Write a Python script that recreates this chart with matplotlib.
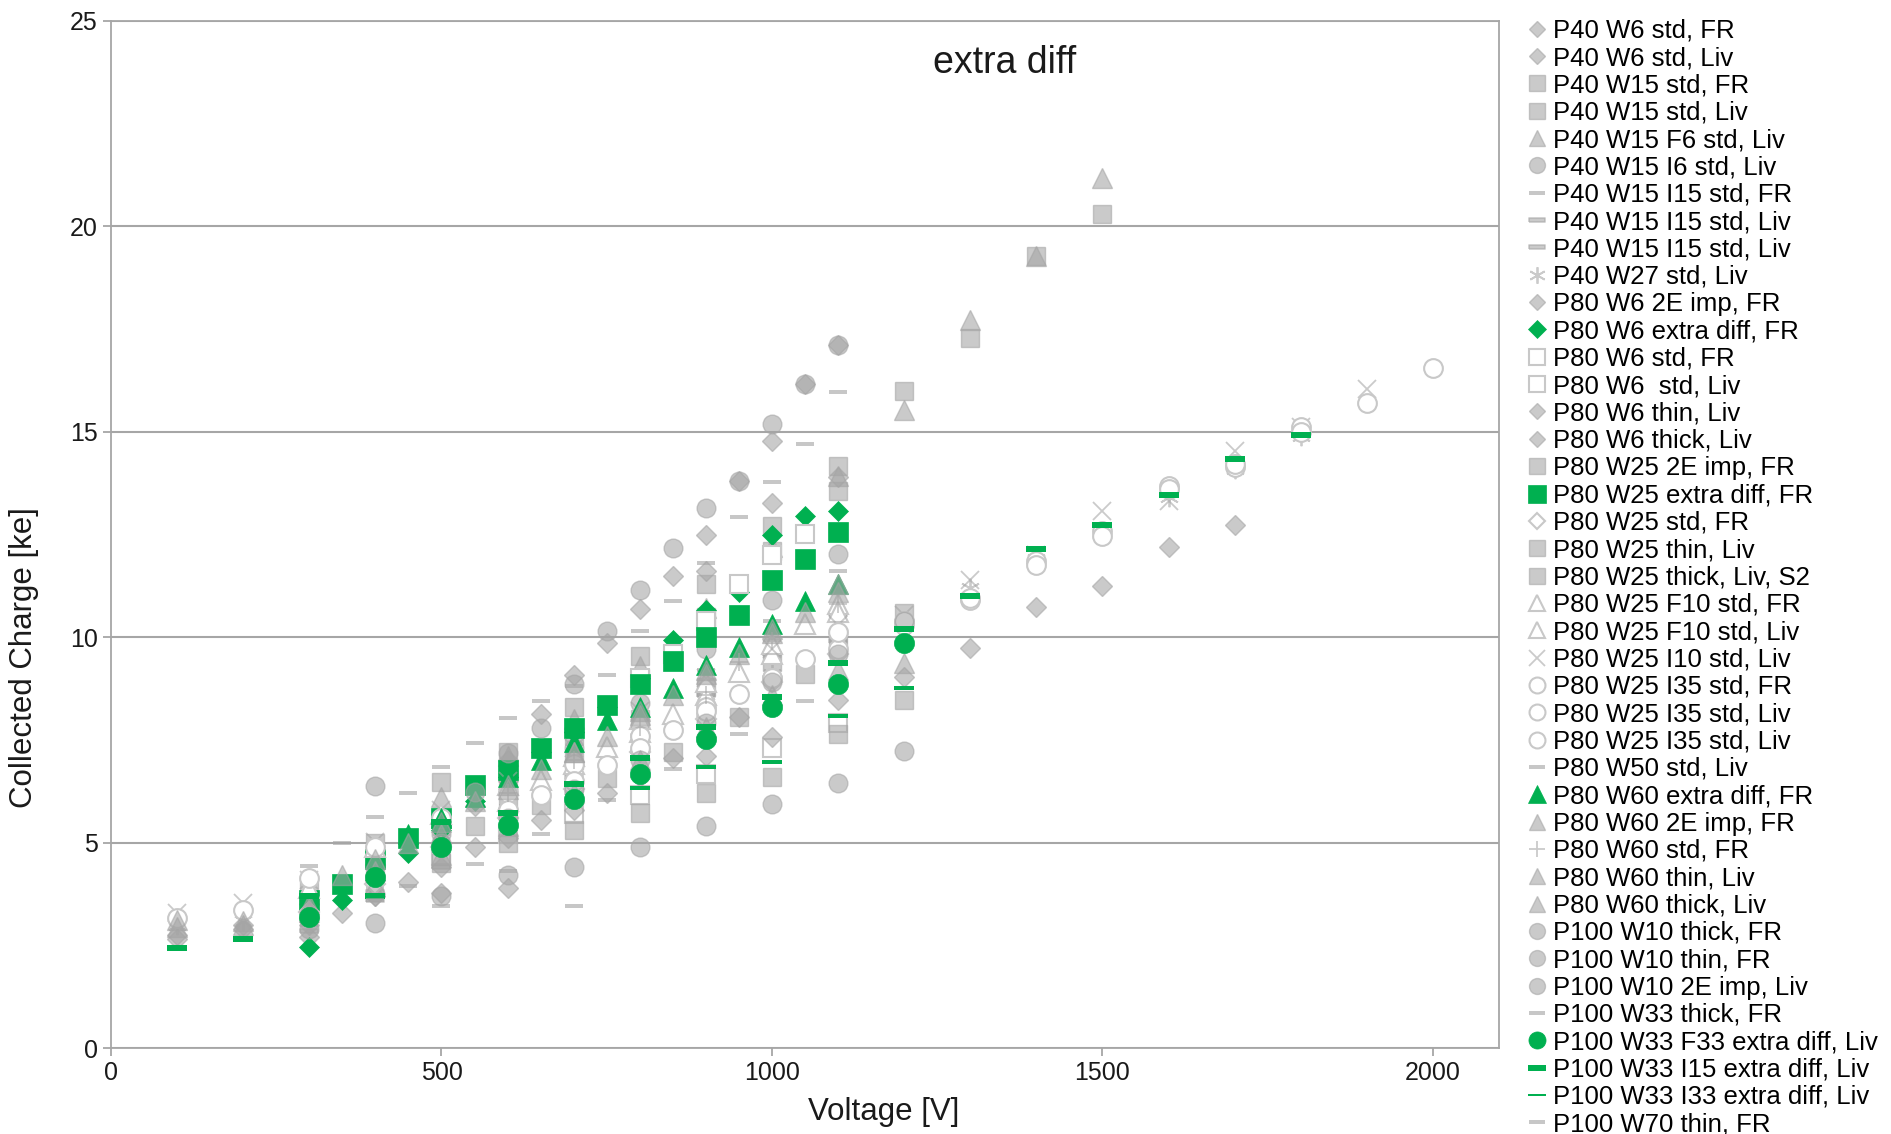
import matplotlib
matplotlib.use("Agg")
import matplotlib.pyplot as plt

plt.rcParams["font.family"] = ["Liberation Sans", "DejaVu Sans"]

# ---------- data: voltage [V] / collected charge [ke] per sensor ----------
v_p40_w6_std_fr = [100, 200, 300, 400, 500, 600]
q_p40_w6_std_fr = [2.75, 3.0, 3.0, 3.7, 3.77, 3.89]
v_p40_w6_std_liv = [100, 200, 300, 400, 500, 600, 700, 800, 900, 1000, 1100]
q_p40_w6_std_liv = [2.65, 2.9, 3.5, 4.4, 5.4, 6.5, 7.7, 9.0, 11.6, 13.26, 13.9]
v_p40_w15_std_fr = [300, 400, 500, 600, 700, 800, 900, 1000, 1100, 1200, 1300, 1400, 1500]
q_p40_w15_std_fr = [3.9, 5.0, 6.48, 7.2, 8.3, 9.55, 11.29, 12.7, 14.16, 15.99, 17.28, 19.28, 20.3]
v_p40_w15_std_liv = [300, 400, 500, 600, 700, 800, 900, 1000, 1100]
q_p40_w15_std_liv = [3.5, 4.5, 5.6, 6.5, 7.6, 9.0, 10.5, 12.1, 13.56]
v_p40_w15_f6_liv = [300, 400, 500, 600, 700, 800, 900, 1000, 1100, 1200, 1300, 1400, 1500]
q_p40_w15_f6_liv = [3.6, 4.7, 6.12, 7.1, 8.0, 9.3, 10.7, 12.2, 13.92, 15.52, 17.72, 19.28, 21.16]
v_p40_w15_i6_liv = [300, 400, 500, 600, 700, 800, 900, 1000, 1100]
q_p40_w15_i6_liv = [3.3, 4.2, 5.2, 6.3, 7.3, 8.4, 9.7, 10.9, 12.02]
v_p40_w15_i15_fr = [300, 400, 500, 600, 700, 800, 900, 1000, 1100]
q_p40_w15_i15_fr = [3.0, 3.9, 4.9, 5.9, 6.9, 8.0, 9.2, 10.4, 11.6]
v_p40_w15_i15_liv_a = [300, 400, 500, 600, 700, 800, 900, 1000, 1100]
q_p40_w15_i15_liv_a = [3.1, 3.8, 4.7, 5.6, 6.6, 7.6, 8.6, 9.6, 10.57]
v_p40_w15_i15_liv_b = [300, 400, 500, 600, 700, 800, 900, 1000, 1100]
q_p40_w15_i15_liv_b = [2.85, 3.6, 4.4, 5.3, 6.2, 7.2, 8.1, 9.0, 9.9]
v_p40_w27_liv = [100, 200, 300, 400, 500, 600, 700, 800, 900, 1000, 1100, 1200, 1300, 1400, 1500, 1600, 1700, 1800]
q_p40_w27_liv = [3.0, 3.1, 3.6, 4.6, 5.3, 6.0, 6.8, 7.6, 8.4, 9.1, 9.8, 10.4, 11.2, 11.9, 12.5, 13.4, 14.1, 14.9]
v_p80_w6_2e_fr = [300, 350, 450, 550, 650, 750, 850, 950]
q_p80_w6_2e_fr = [2.7, 3.28, 4.05, 4.9, 5.55, 6.2, 7.05, 8.06]
v_p80_w6_xd_fr = [300, 350, 400, 450, 500, 550, 600, 650, 700, 750, 800, 850, 900, 950, 1000, 1050, 1100]
q_p80_w6_xd_fr = [2.45, 3.6, 4.1, 4.74, 5.3, 6.0, 6.6, 7.2, 7.7, 8.3, 9.0, 9.92, 10.65, 11.09, 12.48, 12.94, 13.07]
v_p80_w6_std_fr = [500, 600, 700, 800, 900, 1000, 1100]
q_p80_w6_std_fr = [4.7, 5.2, 5.7, 6.16, 6.68, 7.29, 7.9]
v_p80_w6_std_liv = [800, 850, 900, 950, 1000, 1050]
q_p80_w6_std_liv = [9.0, 9.6, 10.4, 11.3, 12.0, 12.5]
v_p80_w6_thin_liv = [400, 500, 600, 700, 800, 900, 1000, 1100, 1200, 1300, 1400, 1500, 1600, 1700]
q_p80_w6_thin_liv = [3.7, 4.4, 5.1, 5.8, 6.6, 7.1, 7.57, 8.46, 9.03, 9.73, 10.74, 11.25, 12.18, 12.73]
v_p80_w6_thick_liv = [550, 600, 650, 700, 750, 800, 850, 900, 950, 1000, 1050, 1100]
q_p80_w6_thick_liv = [5.9, 7.0, 8.12, 9.07, 9.85, 10.69, 11.49, 12.48, 13.8, 14.77, 16.15, 17.1]
v_p80_w25_2e_fr = [500, 600, 700, 800, 900, 1000, 1100, 1200]
q_p80_w25_2e_fr = [4.5, 5.0, 5.3, 5.71, 6.2, 6.6, 7.65, 8.47]
v_p80_w25_xd_fr = [300, 350, 400, 450, 500, 550, 600, 650, 700, 750, 800, 850, 900, 950, 1000, 1050, 1100]
q_p80_w25_xd_fr = [3.6, 4.0, 4.6, 5.1, 5.6, 6.4, 6.76, 7.29, 7.78, 8.34, 8.85, 9.43, 10.0, 10.53, 11.38, 11.89, 12.55]
v_p80_w25_std_fr = [300, 400, 500, 600, 700, 800, 900, 1000, 1100]
q_p80_w25_std_fr = [3.3, 4.0, 4.9, 5.6, 6.3, 7.2, 8.0, 8.9, 9.6]
v_p80_w25_thin_liv = [550, 650, 750, 850, 950, 1050]
q_p80_w25_thin_liv = [5.4, 5.91, 6.56, 7.21, 8.06, 9.11]
v_p80_w25_thick_liv = [600, 700, 800, 900, 1000, 1100, 1200]
q_p80_w25_thick_liv = [6.0, 7.0, 8.0, 8.79, 9.39, 10.0, 10.58]
v_p80_w25_f10_fr = [600, 650, 700, 750, 800, 850, 900, 950, 1000, 1050, 1100]
q_p80_w25_f10_fr = [6.0, 6.52, 6.9, 7.33, 7.7, 8.14, 8.6, 9.15, 9.6, 10.32, 10.81]
v_p80_w25_f10_liv = [300, 400, 500, 600, 700, 800, 900, 1000, 1100]
q_p80_w25_f10_liv = [3.9, 4.9, 5.7, 6.4, 7.1, 8.0, 8.9, 9.84, 10.6]
v_p80_w25_i10_liv = [100, 200, 300, 400, 500, 600, 700, 800, 900, 1000, 1100, 1200, 1300, 1400, 1500, 1600, 1700, 1800, 1900]
q_p80_w25_i10_liv = [3.28, 3.52, 4.1, 5.02, 5.8, 6.5, 7.3, 8.2, 9.0, 9.7, 10.3, 10.53, 11.39, 12.0, 13.07, 13.32, 14.53, 15.1, 16.03]
v_p80_w25_i35_fr = [100, 200, 300, 400, 500, 600, 700, 800, 900, 1000, 1100, 1200, 1300, 1400, 1500, 1600, 1700, 1800, 1900, 2000]
q_p80_w25_i35_fr = [3.16, 3.36, 4.13, 4.9, 5.6, 6.2, 6.9, 7.6, 8.3, 9.0, 9.7, 10.3, 10.9, 11.86, 12.59, 13.68, 14.13, 15.1, 15.7, 16.54]
v_p80_w25_i35_liv_a = [600, 650, 700, 750, 800, 850, 900, 950, 1000, 1050, 1100]
q_p80_w25_i35_liv_a = [5.8, 6.16, 6.5, 6.89, 7.3, 7.73, 8.2, 8.62, 9.0, 9.47, 10.12]
v_p80_w25_i35_liv_b = [1200, 1300, 1400, 1500, 1600, 1700, 1800]
q_p80_w25_i35_liv_b = [10.4, 10.95, 11.75, 12.45, 13.6, 14.2, 15.0]
v_p80_w50_liv = [450, 550, 650, 750, 850, 950, 1050]
q_p80_w50_liv = [3.95, 4.47, 5.2, 6.04, 6.8, 7.63, 8.45]
v_p80_w60_xd_fr = [450, 500, 550, 600, 650, 700, 750, 800, 850, 900, 950, 1000, 1050, 1100]
q_p80_w60_xd_fr = [5.2, 5.6, 6.1, 6.6, 7.0, 7.45, 7.98, 8.3, 8.75, 9.31, 9.76, 10.32, 10.89, 11.29]
v_p80_w60_2e_fr = [300, 350, 400, 450, 500, 550, 600, 650, 700, 750, 800, 850, 900, 950, 1000, 1050, 1100]
q_p80_w60_2e_fr = [3.5, 4.2, 4.6, 5.0, 5.5, 6.0, 6.4, 6.8, 7.2, 7.6, 8.1, 8.6, 9.1, 9.6, 10.1, 10.6, 11.1]
v_p80_w60_std_fr = [600, 700, 800, 900, 950, 1000, 1100]
q_p80_w60_std_fr = [6.2, 7.0, 7.8, 8.6, 9.4, 9.9, 10.8]
v_p80_w60_thin_liv = [100, 200, 300, 400, 500, 600, 700, 800, 900, 1000, 1100]
q_p80_w60_thin_liv = [3.12, 3.1, 3.4, 4.3, 5.2, 6.3, 7.2, 8.2, 9.2, 10.2, 11.3]
v_p80_w60_thick_liv = [100, 200, 300, 400, 500, 600, 700, 800, 900, 1000, 1100, 1200]
q_p80_w60_thick_liv = [2.95, 3.0, 3.3, 4.0, 4.7, 5.4, 6.2, 7.0, 7.8, 8.6, 9.2, 9.36]
v_p100_w10_thick_fr = [550, 600, 650, 700, 750, 800, 850, 900, 950, 1000, 1050, 1100]
q_p100_w10_thick_fr = [6.24, 7.17, 7.78, 8.87, 10.16, 11.14, 12.16, 13.13, 13.8, 15.18, 16.15, 17.1]
v_p100_w10_thin_fr = [400, 500, 600, 700, 800, 900, 1000, 1100, 1200]
q_p100_w10_thin_fr = [3.04, 3.7, 4.22, 4.4, 4.89, 5.41, 5.95, 6.44, 7.23]
v_p100_w10_2e_liv = [300, 400, 500, 600, 700, 800, 900, 1000, 1100, 1200]
q_p100_w10_2e_liv = [2.9, 6.38, 5.0, 5.6, 6.3, 7.0, 7.9, 8.9, 9.6, 10.4]
v_p100_w33_thick_fr = [300, 350, 400, 450, 500, 550, 600, 650, 700, 750, 800, 850, 900, 950, 1000, 1050, 1100]
q_p100_w33_thick_fr = [4.42, 5.0, 5.63, 6.21, 6.84, 7.43, 8.02, 8.45, 8.8, 9.07, 10.15, 10.89, 11.8, 12.91, 13.78, 14.71, 15.97]
v_p100_w33_f33_xd = [300, 400, 500, 600, 700, 800, 900, 1000, 1100, 1200]
q_p100_w33_f33_xd = [3.2, 4.17, 4.88, 5.43, 6.05, 6.68, 7.51, 8.3, 8.87, 9.85]
v_p100_w33_i15_xd = [100, 200, 300, 400, 500, 600, 700, 800, 900, 1000, 1100, 1200, 1300, 1400, 1500, 1600, 1700, 1800]
q_p100_w33_i15_xd = [2.43, 2.66, 3.69, 3.69, 5.51, 5.73, 6.42, 7.05, 7.82, 8.54, 9.37, 10.2, 11.0, 12.14, 12.73, 13.45, 14.33, 14.91]
v_p100_w33_i33_xd = [800, 900, 1000, 1100, 1200]
q_p100_w33_i33_xd = [6.32, 6.84, 6.95, 8.07, 8.75]
v_p100_w70_thin_fr = [400, 500, 600, 700]
q_p100_w70_thin_fr = [3.6, 3.45, 4.3, 3.45]

# ---------- marker styles ----------
GRAY = "#A5A5A5"
OPEN = "#C8C8C8"
GREEN = "#00B050"
RECT = [(-1, -0.22), (1, -0.22), (1, 0.22), (-1, 0.22), (-1, -0.22)]
BAR_THICK = [(-1, -0.3), (1, -0.3), (1, 0.3), (-1, 0.3), (-1, -0.3)]
BAR_THIN = [(-1, -0.17), (1, -0.17), (1, 0.17), (-1, 0.17), (-1, -0.17)]

STYLES = {
    "dia": dict(marker="D", ms=10, mfc=GRAY, mec=GRAY, mew=1.0, alpha=0.58),
    "sq": dict(marker="s", ms=13, mfc=GRAY, mec=GRAY, mew=1.0, alpha=0.58),
    "tri": dict(marker="^", ms=14, mfc=GRAY, mec=GRAY, mew=1.0, alpha=0.58),
    "circ": dict(marker="o", ms=13.5, mfc=GRAY, mec=GRAY, mew=1.0, alpha=0.58),
    "dash": dict(marker=RECT, ms=13.5, mfc=GRAY, mec=GRAY, mew=1.2, alpha=0.58),
    "line": dict(marker=RECT, ms=13.5, mfc=GRAY, mec=GRAY, mew=0.0, alpha=0.62),
    "ast": dict(marker=(6, 2, 0), ms=14, mfc="none", mec=GRAY, mew=1.3, alpha=0.58),
    "x": dict(marker="x", ms=13, mec=GRAY, mew=1.3, alpha=0.58),
    "plus": dict(marker="+", ms=13, mec=GRAY, mew=1.3, alpha=0.58),
    "osq": dict(marker="s", ms=13, mfc="white", mec=OPEN, mew=1.5),
    "odia": dict(marker="D", ms=10, mfc="white", mec=OPEN, mew=1.5),
    "otri": dict(marker="^", ms=14, mfc="white", mec=OPEN, mew=1.5),
    "ocirc": dict(marker="o", ms=13.5, mfc="white", mec=OPEN, mew=1.5),
    "g_dia": dict(marker="D", ms=10.5, mfc=GREEN, mec=GREEN, mew=0.5),
    "g_sq": dict(marker="s", ms=15, mfc=GREEN, mec=GREEN, mew=0.5),
    "g_tri": dict(marker="^", ms=15, mfc=GREEN, mec=GREEN, mew=0.5),
    "g_circ": dict(marker="o", ms=14.5, mfc=GREEN, mec=GREEN, mew=0.5),
    "g_bar": dict(marker=BAR_THICK, ms=14.5, mfc=GREEN, mec=GREEN, mew=0.0),
    "g_thin": dict(marker=BAR_THIN, ms=14.5, mfc=GREEN, mec=GREEN, mew=0.0),
}

SERIES = [
    ("P40 W6 std, FR", v_p40_w6_std_fr, q_p40_w6_std_fr, "dia"),
    ("P40 W6 std, Liv", v_p40_w6_std_liv, q_p40_w6_std_liv, "dia"),
    ("P40 W15 std, FR", v_p40_w15_std_fr, q_p40_w15_std_fr, "sq"),
    ("P40 W15 std, Liv", v_p40_w15_std_liv, q_p40_w15_std_liv, "sq"),
    ("P40 W15 F6 std, Liv", v_p40_w15_f6_liv, q_p40_w15_f6_liv, "tri"),
    ("P40 W15 I6 std, Liv", v_p40_w15_i6_liv, q_p40_w15_i6_liv, "circ"),
    ("P40 W15 I15 std, FR", v_p40_w15_i15_fr, q_p40_w15_i15_fr, "line"),
    ("P40 W15 I15 std, Liv", v_p40_w15_i15_liv_a, q_p40_w15_i15_liv_a, "dash"),
    ("P40 W15 I15 std, Liv", v_p40_w15_i15_liv_b, q_p40_w15_i15_liv_b, "dash"),
    ("P40 W27 std, Liv", v_p40_w27_liv, q_p40_w27_liv, "ast"),
    ("P80 W6 2E imp, FR", v_p80_w6_2e_fr, q_p80_w6_2e_fr, "dia"),
    ("P80 W6 extra diff, FR", v_p80_w6_xd_fr, q_p80_w6_xd_fr, "g_dia"),
    ("P80 W6 std, FR", v_p80_w6_std_fr, q_p80_w6_std_fr, "osq"),
    ("P80 W6  std, Liv", v_p80_w6_std_liv, q_p80_w6_std_liv, "osq"),
    ("P80 W6 thin, Liv", v_p80_w6_thin_liv, q_p80_w6_thin_liv, "dia"),
    ("P80 W6 thick, Liv", v_p80_w6_thick_liv, q_p80_w6_thick_liv, "dia"),
    ("P80 W25 2E imp, FR", v_p80_w25_2e_fr, q_p80_w25_2e_fr, "sq"),
    ("P80 W25 extra diff, FR", v_p80_w25_xd_fr, q_p80_w25_xd_fr, "g_sq"),
    ("P80 W25 std, FR", v_p80_w25_std_fr, q_p80_w25_std_fr, "odia"),
    ("P80 W25 thin, Liv", v_p80_w25_thin_liv, q_p80_w25_thin_liv, "sq"),
    ("P80 W25 thick, Liv, S2", v_p80_w25_thick_liv, q_p80_w25_thick_liv, "sq"),
    ("P80 W25 F10 std, FR", v_p80_w25_f10_fr, q_p80_w25_f10_fr, "otri"),
    ("P80 W25 F10 std, Liv", v_p80_w25_f10_liv, q_p80_w25_f10_liv, "otri"),
    ("P80 W25 I10 std, Liv", v_p80_w25_i10_liv, q_p80_w25_i10_liv, "x"),
    ("P80 W25 I35 std, FR", v_p80_w25_i35_fr, q_p80_w25_i35_fr, "ocirc"),
    ("P80 W25 I35 std, Liv", v_p80_w25_i35_liv_a, q_p80_w25_i35_liv_a, "ocirc"),
    ("P80 W25 I35 std, Liv", v_p80_w25_i35_liv_b, q_p80_w25_i35_liv_b, "ocirc"),
    ("P80 W50 std, Liv", v_p80_w50_liv, q_p80_w50_liv, "line"),
    ("P80 W60 extra diff, FR", v_p80_w60_xd_fr, q_p80_w60_xd_fr, "g_tri"),
    ("P80 W60 2E imp, FR", v_p80_w60_2e_fr, q_p80_w60_2e_fr, "tri"),
    ("P80 W60 std, FR", v_p80_w60_std_fr, q_p80_w60_std_fr, "plus"),
    ("P80 W60 thin, Liv", v_p80_w60_thin_liv, q_p80_w60_thin_liv, "tri"),
    ("P80 W60 thick, Liv", v_p80_w60_thick_liv, q_p80_w60_thick_liv, "tri"),
    ("P100 W10 thick, FR", v_p100_w10_thick_fr, q_p100_w10_thick_fr, "circ"),
    ("P100 W10 thin, FR", v_p100_w10_thin_fr, q_p100_w10_thin_fr, "circ"),
    ("P100 W10 2E imp, Liv", v_p100_w10_2e_liv, q_p100_w10_2e_liv, "circ"),
    ("P100 W33 thick, FR", v_p100_w33_thick_fr, q_p100_w33_thick_fr, "line"),
    ("P100 W33 F33 extra diff, Liv", v_p100_w33_f33_xd, q_p100_w33_f33_xd, "g_circ"),
    ("P100 W33 I15 extra diff, Liv", v_p100_w33_i15_xd, q_p100_w33_i15_xd, "g_bar"),
    ("P100 W33 I33 extra diff, Liv", v_p100_w33_i33_xd, q_p100_w33_i33_xd, "g_thin"),
    ("P100 W70 thin, FR", v_p100_w70_thin_fr, q_p100_w70_thin_fr, "line"),
]

# ---------- figure ----------
fig = plt.figure(figsize=(18.91, 11.34), dpi=100)
ax = fig.add_axes([0.0587, 0.0758, 0.734, 0.906])

for label, v, q, key in SERIES:
    ax.plot(v, q, linestyle="none", label=label, **STYLES[key])

ax.set_xlim(0, 2100)
ax.set_ylim(0, 25)
ax.set_xticks([0, 500, 1000, 1500, 2000])
ax.set_yticks([0, 5, 10, 15, 20, 25])
ax.yaxis.grid(True, color="#A6A6A6", linewidth=1.5)
ax.set_axisbelow(True)
for sp in ax.spines.values():
    sp.set_color("#A6A6A6")
    sp.set_linewidth(1.3)
ax.tick_params(axis="both", colors="#A6A6A6", labelcolor="#1A1A1A",
               labelsize=18, length=6, width=1.3, direction="out")

ax.set_xlabel("Voltage [V]", fontsize=22.5, color="#1A1A1A")
ax.set_ylabel("Collected Charge [ke]", fontsize=22.5, color="#1A1A1A")
ax.xaxis.label.set_va("center")
ax.yaxis.label.set_va("center")
ax.xaxis.set_label_coords(0.557, -0.062)
ax.yaxis.set_label_coords(-0.0627, 0.38)

ax.text(0.644, 0.9586, "extra diff", transform=ax.transAxes,
        ha="center", va="center", fontsize=27, color="#1A1A1A")

ax.legend(loc="upper left", bbox_to_anchor=(0.8075, 0.9835),
          bbox_transform=fig.transFigure, frameon=False, fontsize=18.5,
          labelspacing=0.13, handlelength=0.8, handletextpad=0.22,
          borderpad=0, borderaxespad=0, markerscale=0.85, numpoints=1)

fig.savefig("out.png", dpi=100)
